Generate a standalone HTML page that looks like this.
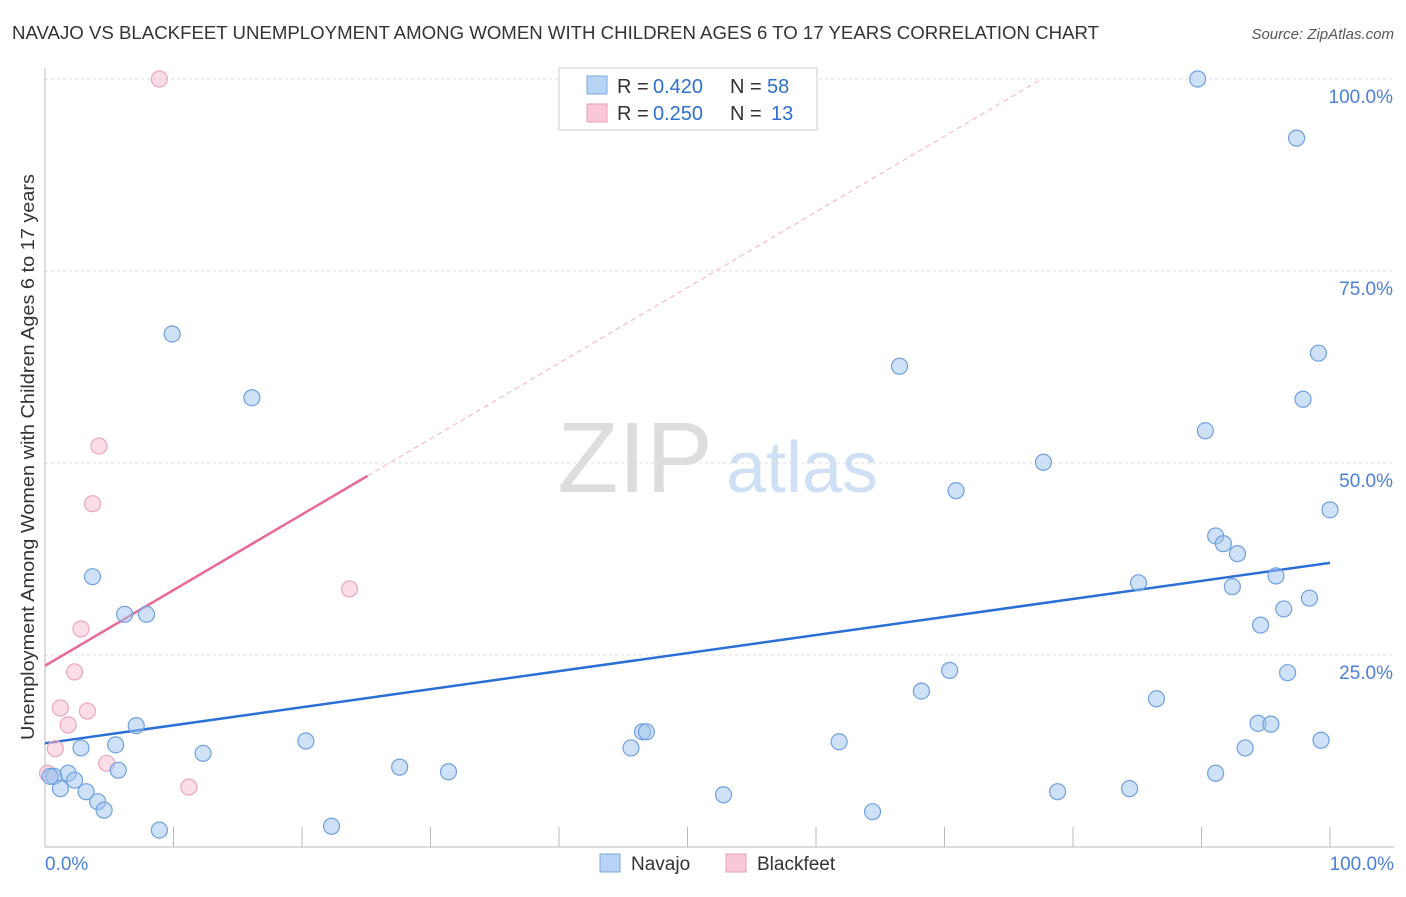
<!DOCTYPE html>
<html><head><meta charset="utf-8"><style>
body{margin:0;background:#fff;font-family:"Liberation Sans",sans-serif;}
svg text{font-family:"Liberation Sans",sans-serif;}
</style></head><body>
<svg id="chart" width="1406" height="892" xmlns="http://www.w3.org/2000/svg">
<text x="12" y="39" font-size="18" fill="#333" textLength="1087" lengthAdjust="spacingAndGlyphs">NAVAJO VS BLACKFEET UNEMPLOYMENT AMONG WOMEN WITH CHILDREN AGES 6 TO 17 YEARS CORRELATION CHART</text>
<text x="1394" y="39" font-size="15" fill="#555" font-style="italic" text-anchor="end">Source: ZipAtlas.com</text>
<text x="635" y="492" font-size="100" fill="#ddd" font-family="Liberation Serif" text-anchor="middle">ZIP</text>
<text x="802" y="492" font-size="72" fill="#cfe0f5" text-anchor="middle">atlas</text>
<text transform="translate(34,457) rotate(-90)" font-size="18" fill="#333" text-anchor="middle" textLength="566" lengthAdjust="spacingAndGlyphs">Unemployment Among Women with Children Ages 6 to 17 years</text>
<g id="grid"></g><g id="axes"></g><g id="lines"></g><g id="points"></g>
<g>
<rect x="559" y="68" width="258" height="62" fill="#fff" stroke="#ccc"/>
<rect x="587" y="76" width="20" height="18" fill="#b8d4f5" stroke="#7aa8e0"/>
<text x="617" y="93" font-size="20" fill="#333">R =</text><text x="653" y="93" font-size="20" fill="#2f6fd0">0.420</text>
<text x="730" y="93" font-size="20" fill="#333">N =</text><text x="767" y="93" font-size="20" fill="#2f6fd0">58</text>
<rect x="587" y="104" width="20" height="18" fill="#f8c8d6" stroke="#e8a0b8"/>
<text x="617" y="120" font-size="20" fill="#333">R =</text><text x="653" y="120" font-size="20" fill="#2f6fd0">0.250</text>
<text x="730" y="120" font-size="20" fill="#333">N =</text><text x="771" y="120" font-size="20" fill="#2f6fd0">13</text>
</g>
<g>
<rect x="600" y="854" width="20" height="18" fill="#b8d4f5" stroke="#7aa8e0"/>
<text x="631" y="870" font-size="19" fill="#333">Navajo</text>
<rect x="726" y="854" width="20" height="18" fill="#f8c8d6" stroke="#e8a0b8"/>
<text x="757" y="870" font-size="19" fill="#333">Blackfeet</text>
</g>
</svg>
<script>
const navajoX=[0.7,1.2,1.8,2.3,2.8,3.2,3.7,4.1,4.6,5.5,5.7,6.2,7.1,7.9,8.9,9.9,12.3,16.1,20.3,22.3,27.6,31.4,45.6,46.5,46.8,52.8,61.8,64.4,66.5,68.2,70.4,70.9,77.7,78.8,84.4,85.1,86.5,89.7,90.3,91.1,91.1,91.7,92.4,92.8,93.4,94.4,94.6,95.4,95.8,96.4,96.7,97.4,97.9,98.4,99.1,99.3,100,0.4];
const navajoY=[9.2,7.6,9.6,8.7,12.9,7.2,35.2,5.9,4.8,13.3,10.0,30.3,15.8,30.3,2.2,66.8,12.2,58.5,13.8,2.7,10.4,9.8,12.9,15.0,15.0,6.8,13.7,4.6,62.6,20.3,23.0,46.4,50.1,7.2,7.6,34.4,19.3,100,54.2,9.6,40.5,39.5,33.9,38.2,12.9,16.1,28.9,16.0,35.3,31.0,22.7,92.3,58.3,32.4,64.3,13.9,43.9,9.2];
const blackX=[8.9,4.2,3.7,23.7,2.8,2.3,1.2,3.3,1.8,0.8,4.8,11.2,0.2];
const blackY=[100,52.2,44.7,33.6,28.4,22.8,18.1,17.7,15.9,12.8,10.9,7.8,9.6];
const navajoTrend=[13.5,37.0];
const blackTrend=[23.6,0.985];
const yTicks=[25,50,75,100];
const yTickLabels=["25.0%","50.0%","75.0%","100.0%"];
const xTicks=[0,10,20,30,40,50,60,70,80,90,100];
const NS="http://www.w3.org/2000/svg";
const sx=v=>45+v*12.85, sy=v=>847-v*7.68;
function mk(tag,attrs,parent){const e=document.createElementNS(NS,tag);for(const k in attrs)e.setAttribute(k,attrs[k]);document.getElementById(parent).appendChild(e);return e;}
yTicks.forEach((t,i)=>{
 const g=mk('line',{x1:45,x2:1394,y1:sy(t),y2:sy(t),stroke:'#ddd','stroke-dasharray':'3,3'},'grid');
 
 
 const l=mk('text',{x:1393,y:sy(t)+24,'font-size':19,fill:'#4a80d8','text-anchor':'end'},'axes');l.textContent=yTickLabels[i];
 
 
});
mk('line',{x1:45,x2:45,y1:68,y2:847,stroke:'#bbb'},'axes');
mk('line',{x1:45,x2:1394,y1:847,y2:847,stroke:'#bbb'},'axes');
xTicks.forEach(t=>{const e=mk('line',{x1:sx(t),x2:sx(t),y1:827,y2:847,stroke:'#bbb'},'axes');
 
 });
let a=mk('text',{x:45,y:870,'font-size':19,fill:'#4a80d8'},'axes');a.textContent='0.0%';


a=mk('text',{x:1394,y:870,'font-size':19,fill:'#4a80d8','text-anchor':'end'},'axes');a.textContent='100.0%';


blackX.forEach((x,i)=>{const c=mk('circle',{cx:sx(x),cy:sy(blackY[i]),r:8,fill:'rgba(245,180,200,0.45)',stroke:'#eaa6bd','stroke-width':1.2},'points');
 
 });
navajoX.forEach((x,i)=>{const c=mk('circle',{cx:sx(x),cy:sy(navajoY[i]),r:8,fill:'rgba(160,196,240,0.5)',stroke:'#6fa0e0','stroke-width':1.2},'points');
 
 });
let ln=mk('line',{x1:sx(0),y1:sy(navajoTrend[0]),x2:sx(100),y2:sy(navajoTrend[1]),stroke:'#2a6fd6','stroke-width':2.5},'lines');


const xs=25.1, xe=(100-blackTrend[0])/blackTrend[1];
ln=mk('line',{x1:sx(0),y1:sy(blackTrend[0]),x2:sx(xs),y2:sy(blackTrend[0]+blackTrend[1]*xs),stroke:'#e86a95','stroke-width':2.5},'lines');


ln=mk('line',{x1:sx(xs),y1:sy(blackTrend[0]+blackTrend[1]*xs),x2:sx(xe),y2:sy(100),stroke:'#f0b0c4','stroke-width':1,'stroke-dasharray':'5,4'},'lines');


</script>
</body></html>
